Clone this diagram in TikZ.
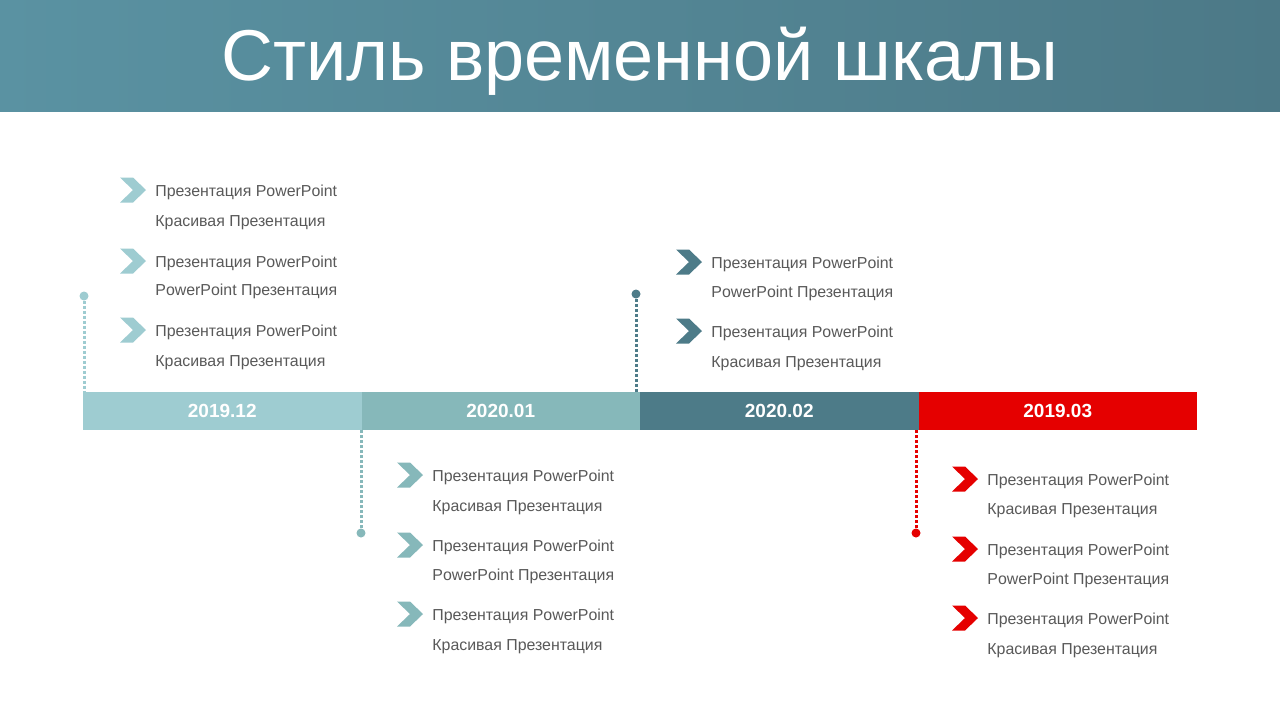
\documentclass[tikz,border=0pt]{standalone}
\usepackage{fontspec}
\setmainfont{Liberation Sans}
\definecolor{hdrL}{HTML}{5A92A2}
\definecolor{hdrM}{HTML}{5E98A7}
\definecolor{hdrR}{HTML}{4C7987}
\definecolor{cA}{HTML}{9ECCD1}
\definecolor{cB}{HTML}{86B8BA}
\definecolor{cC}{HTML}{4D7B88}
\definecolor{cD}{HTML}{E50000}
\definecolor{txt}{HTML}{595959}
\newcommand\tlitem[7]{%
  \fill[#2] (#3,#5) ++(0,-12.5) -- ++(13,0) -- ++(13,12.5) -- ++(-13,12.5) -- ++(-13,0) -- ++(13,-12.5) -- cycle;
  \node[body] (#1a) at (#4,#5+6) {Презентация PowerPoint};
  \node[body] (#1b) at (#4,#6+6) {#7};
}
\begin{document}
\begin{tikzpicture}[x=0.5pt,y=-0.5pt,
  segbox/.style={rectangle, minimum width=139.25pt, minimum height=19pt, inner sep=0pt, text=white, font=\bfseries\fontsize{9.5}{11}\selectfont},
  dotline/.style={line width=1.5pt, dash pattern=on 1.5pt off 1pt},
  pin/.style={circle, inner sep=0pt, minimum size=4.5pt},
  body/.style={anchor=base west, inner sep=0pt, text=txt, font=\fontsize{7.95}{10}\selectfont}]
\useasboundingbox (0,0) rectangle (1280,720);
\fill[white] (0,0) rectangle (1280,720);
% header
\shade[left color=hdrL, middle color=hdrM, right color=hdrR] (0,0) rectangle (1280,111);
\node[anchor=base, inner sep=0pt, text=white, font=\fontsize{36}{40}\selectfont] (title) at (640,80) {Стиль временной шкалы};
% timeline bar
\node[segbox, fill=cA] (s1) at (222.25,411) {2019.12};
\node[segbox, fill=cB] (s2) at (500.75,411) {2020.01};
\node[segbox, fill=cC] (s3) at (779.25,411) {2020.02};
\node[segbox, fill=cD] (s4) at (1057.75,411) {2019.03};
% pins
\node[pin, fill=cA] (p1) at (84,296) {};
\draw[dotline, draw=cA] (p1) -- (p1 |- s1.north);
\node[pin, fill=cB] (p2) at (361,533) {};
\draw[dotline, draw=cB] (p2) -- (p2 |- s2.south);
\node[pin, fill=cC] (p3) at (636,294) {};
\draw[dotline, draw=cC] (p3) -- (p3 |- s3.north);
\node[pin, fill=cD] (p4) at (916,533) {};
\draw[dotline, draw=cD] (p4) -- (p4 |- s4.south);
% items segment 1
\tlitem{i11}{cA}{120}{155}{190}{220}{Красивая Презентация}
\tlitem{i12}{cA}{120}{155}{261}{289}{PowerPoint Презентация}
\tlitem{i13}{cA}{120}{155}{330}{360}{Красивая Презентация}
% items segment 2
\tlitem{i21}{cB}{397}{432}{475}{505}{Красивая Презентация}
\tlitem{i22}{cB}{397}{432}{545}{574}{PowerPoint Презентация}
\tlitem{i23}{cB}{397}{432}{614}{644}{Красивая Презентация}
% items segment 3
\tlitem{i31}{cC}{676}{711}{262}{291}{PowerPoint Презентация}
\tlitem{i32}{cC}{676}{711}{331}{361}{Красивая Презентация}
% items segment 4
\tlitem{i41}{cD}{952}{987}{479}{508}{Красивая Презентация}
\tlitem{i42}{cD}{952}{987}{549}{578}{PowerPoint Презентация}
\tlitem{i43}{cD}{952}{987}{618}{648}{Красивая Презентация}
\end{tikzpicture}
\end{document}
